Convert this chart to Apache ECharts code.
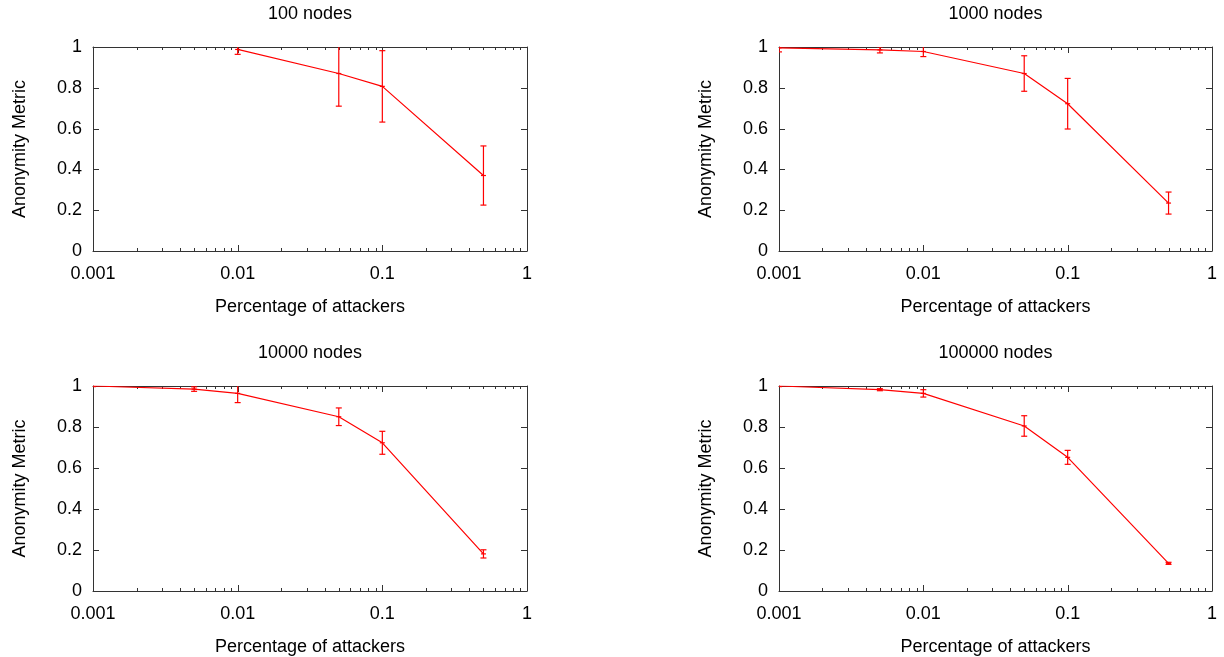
<!DOCTYPE html>
<html lang="en">
<head>
<meta charset="utf-8">
<title>Anonymity Metric</title>
<script src="https://cdn.jsdelivr.net/npm/echarts@6/dist/echarts.min.js"></script>
<style>
  html, body { margin: 0; padding: 0; background: #fff; }
  #main { width: 1224px; height: 657px; }
</style>
</head>
<body>
<div id="main"></div>
<script>
// attacker fractions
const xs100 = [0.01, 0.05, 0.1, 0.5];
const xsBig = [0.001, 0.005, 0.01, 0.05, 0.1, 0.5];

// anonymity metric (mean) and error (+/-)
const y100 = [0.988, 0.87, 0.807, 0.37];
const e100 = [0.024, 0.16, 0.175, 0.145];
const y1000 = [0.996, 0.986, 0.978, 0.87, 0.722, 0.235];
const e1000 = [0.02, 0.015, 0.025, 0.087, 0.124, 0.054];
const y10000 = [1.0, 0.985, 0.964, 0.85, 0.723, 0.181];
const e10000 = [0.003, 0.011, 0.045, 0.043, 0.056, 0.02];
const y100000 = [1.0, 0.982, 0.964, 0.805, 0.652, 0.135];
const e100000 = [0.003, 0.005, 0.018, 0.05, 0.034, 0.005];

const titles = ['100 nodes', '1000 nodes', '10000 nodes', '100000 nodes'];
const xMajor = [0.001, 0.01, 0.1, 1];
const xMinor = [0.002, 0.003, 0.004, 0.005, 0.006, 0.007, 0.008, 0.009,
                0.02, 0.03, 0.04, 0.05, 0.06, 0.07, 0.08, 0.09,
                0.2, 0.3, 0.4, 0.5, 0.6, 0.7, 0.8, 0.9];
const yMajor = [0, 0.2, 0.4, 0.6, 0.8, 1];

const panels = [
  { xs: xs100, ys: y100, es: e100 },
  { xs: xsBig, ys: y1000, es: e1000 },
  { xs: xsBig, ys: y10000, es: e10000 },
  { xs: xsBig, ys: y100000, es: e100000 }
];

const FONT = 'Liberation Sans, Arial, sans-serif';
const FS = 18;
const RED = '#ff0000';
const AXC = '#333';

// plot boxes, in pixels
const boxes = [
  { left: 93, top: 47, width: 434, height: 204 },
  { left: 779, top: 47, width: 433, height: 204 },
  { left: 93, top: 386, width: 434, height: 205 },
  { left: 779, top: 386, width: 433, height: 205 }
];

const chart = echarts.init(document.getElementById('main'));

const grid = [], xAxis = [], yAxis = [], series = [], title = [];

function tickLine(x1, y1, x2, y2) {
  return { type: 'line', shape: { x1: x1, y1: y1, x2: x2, y2: y2 }, style: { stroke: AXC, lineWidth: 1 } };
}

boxes.forEach((b, i) => {
  grid.push({ left: b.left, top: b.top, width: b.width, height: b.height, containLabel: false });
  title.push({
    text: titles[i], left: b.left + b.width / 2, top: b.top - 42, padding: 0,
    textAlign: 'center',
    textStyle: { fontFamily: FONT, fontSize: FS, fontWeight: 'normal', color: '#000' }
  });

  const xBase = {
    type: 'log', logBase: 10, min: 0.001, max: 1, gridIndex: i,
    axisLine: { show: true, onZero: false, lineStyle: { color: AXC, width: 1 } },
    axisTick: { show: false },
    splitLine: { show: false }
  };
  xAxis.push(Object.assign({}, xBase, {
    position: 'bottom',
    name: 'Percentage of attackers', nameLocation: 'middle', nameGap: 47,
    nameTextStyle: { fontFamily: FONT, fontSize: FS, color: '#000' },
    axisLabel: { fontFamily: FONT, fontSize: FS, color: '#000', margin: 14 }
  }));
  xAxis.push(Object.assign({}, xBase, { position: 'top', axisLabel: { show: false } }));

  const yBase = {
    type: 'value', min: 0, max: 1, interval: 0.2, gridIndex: i,
    axisLine: { show: true, onZero: false, lineStyle: { color: AXC, width: 1 } },
    axisTick: { show: false },
    splitLine: { show: false }
  };
  yAxis.push(Object.assign({}, yBase, {
    position: 'left',
    name: 'Anonymity Metric', nameLocation: 'middle', nameGap: 64, nameRotate: 90,
    nameTextStyle: { fontFamily: FONT, fontSize: FS, color: '#000' },
    axisLabel: { fontFamily: FONT, fontSize: FS, color: '#000', margin: 11 }
  }));
  yAxis.push(Object.assign({}, yBase, { position: 'right', axisLabel: { show: false } }));

  const xa = i * 2, ya = i * 2;
  const p = panels[i];

  // x ticks (major + minor), pointing inward on bottom and top edges
  series.push({
    type: 'custom', xAxisIndex: xa, yAxisIndex: ya, silent: true, z: 1,
    data: xMajor.map(v => [v, 6]).concat(xMinor.map(v => [v, 3])),
    renderItem: function (params, api) {
      const len = api.value(1);
      const b0 = api.coord([api.value(0), 0]);
      const t0 = api.coord([api.value(0), 1]);
      const x = Math.round(b0[0]) + 0.5;
      return {
        type: 'group',
        children: [tickLine(x, b0[1], x, b0[1] - len), tickLine(x, t0[1], x, t0[1] + len)]
      };
    }
  });

  // y ticks, pointing inward on left and right edges
  series.push({
    type: 'custom', xAxisIndex: xa, yAxisIndex: ya, silent: true, z: 1,
    data: yMajor.map(v => [v]),
    renderItem: function (params, api) {
      const l0 = api.coord([0.001, api.value(0)]);
      const r0 = api.coord([1, api.value(0)]);
      const y = Math.round(l0[1]) + 0.5;
      return {
        type: 'group',
        children: [tickLine(l0[0], y, l0[0] + 6, y), tickLine(r0[0], y, r0[0] - 6, y)]
      };
    }
  });

  // mean line
  series.push({
    type: 'line', xAxisIndex: xa, yAxisIndex: ya,
    data: p.xs.map((x, k) => [x, p.ys[k]]),
    symbol: 'none', lineStyle: { color: RED, width: 1.2 }, z: 3
  });

  // error bars
  series.push({
    type: 'custom', xAxisIndex: xa, yAxisIndex: ya, clip: true, z: 4,
    data: p.xs.map((x, k) => [x, p.ys[k] - p.es[k], p.ys[k] + p.es[k], p.ys[k]]),
    renderItem: function (params, api) {
      const lo = api.coord([api.value(0), api.value(1)]);
      const hi = api.coord([api.value(0), api.value(2)]);
      const mid = api.coord([api.value(0), api.value(3)]);
      const w = 3;
      const st = { stroke: RED, lineWidth: 1.2 };
      return {
        type: 'group',
        children: [
          { type: 'line', shape: { x1: lo[0], y1: lo[1], x2: hi[0], y2: hi[1] }, style: st },
          { type: 'line', shape: { x1: lo[0] - w, y1: lo[1], x2: lo[0] + w, y2: lo[1] }, style: st },
          { type: 'line', shape: { x1: hi[0] - w, y1: hi[1], x2: hi[0] + w, y2: hi[1] }, style: st },
          { type: 'line', shape: { x1: mid[0] - 2.5, y1: mid[1], x2: mid[0] + 2.5, y2: mid[1] }, style: st }
        ]
      };
    }
  });
});

chart.setOption({
  animation: false,
  backgroundColor: '#fff',
  title: title,
  grid: grid,
  xAxis: xAxis,
  yAxis: yAxis,
  series: series
});
</script>
</body>
</html>
